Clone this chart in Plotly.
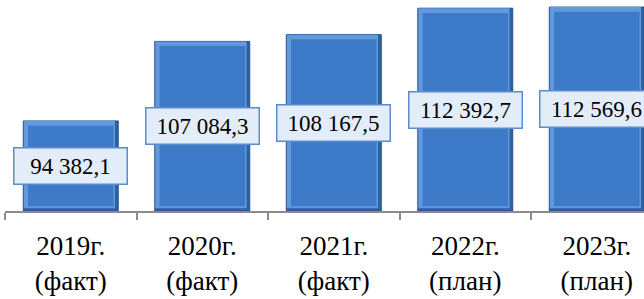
import plotly.graph_objects as go

years = ["2019г.", "2020г.", "2021г.", "2022г.", "2023г."]
kinds = ["(факт)", "(факт)", "(факт)", "(план)", "(план)"]
values = [94382.1, 107084.3, 108167.5, 112392.7, 112569.6]
labels = ["94 382,1", "107 084,3", "108 167,5", "112 392,7", "112 569,6"]
y_min = 80000
y_max = 113700

SERIF = "'Liberation Serif', 'Times New Roman', 'DejaVu Serif', serif"
cats = [f"{y}<br>{k}" for y, k in zip(years, kinds)]

BAR_W = 0.722      # bar width in category units
BEV_X = 0.036      # bevel thickness in category units
BEV_Y = 750        # bevel thickness in value units

fig = go.Figure()
# dark outer body (bottom / right bevel)
fig.add_trace(go.Bar(
    x=cats, y=[v - y_min for v in values], base=y_min,
    width=BAR_W, offset=-BAR_W / 2,
    marker=dict(color="#2f62a4", line=dict(color="#22508c", width=1)),
    hoverinfo="skip",
))
# light top / left bevel
fig.add_trace(go.Bar(
    x=cats, y=[v - y_min - BEV_Y * 0.6 for v in values], base=y_min + BEV_Y * 0.6,
    width=BAR_W - BEV_X * 0.8, offset=-BAR_W / 2 + 0.004,
    marker=dict(color="#6299dd", line=dict(width=0)),
    hoverinfo="skip",
))
# face
fig.add_trace(go.Bar(
    x=cats, y=[v - y_min - 2 * BEV_Y for v in values], base=y_min + BEV_Y,
    width=BAR_W - 2 * BEV_X, offset=-BAR_W / 2 + BEV_X,
    marker=dict(color="#3d7bc9", line=dict(width=0)),
    hoverinfo="skip",
))

for c, v, t in zip(cats, values, labels):
    fig.add_annotation(
        x=c, y=(y_min + v) / 2, text=t, showarrow=False,
        font=dict(family=SERIF, size=23, color="black"),
        bgcolor="#e3ecf9", bordercolor="#5b8ccc", borderwidth=1.5,
        borderpad=3, width=106, height=29,
    )

fig.update_layout(
    width=644, height=299,
    barmode="overlay",
    margin=dict(l=5, r=0, t=0, b=88, autoexpand=False),
    paper_bgcolor="white", plot_bgcolor="white",
    showlegend=False,
    xaxis=dict(
        range=[-0.5, 4.359], tickson="boundaries", ticks="outside",
        ticklen=7, tickcolor="#8c8c8c", tickwidth=1.5,
        showline=True, linecolor="#8c8c8c", linewidth=1.5,
        showgrid=False, fixedrange=True, automargin=False,
        ticklabelstandoff=10,
        tickfont=dict(family=SERIF, size=27, color="black"),
    ),
    yaxis=dict(range=[y_min, y_max], visible=False, showgrid=False,
               automargin=False, fixedrange=True),
)

fig.write_html("out.html", config={"displayModeBar": False},
               post_script="document.body.style.margin='0';")
